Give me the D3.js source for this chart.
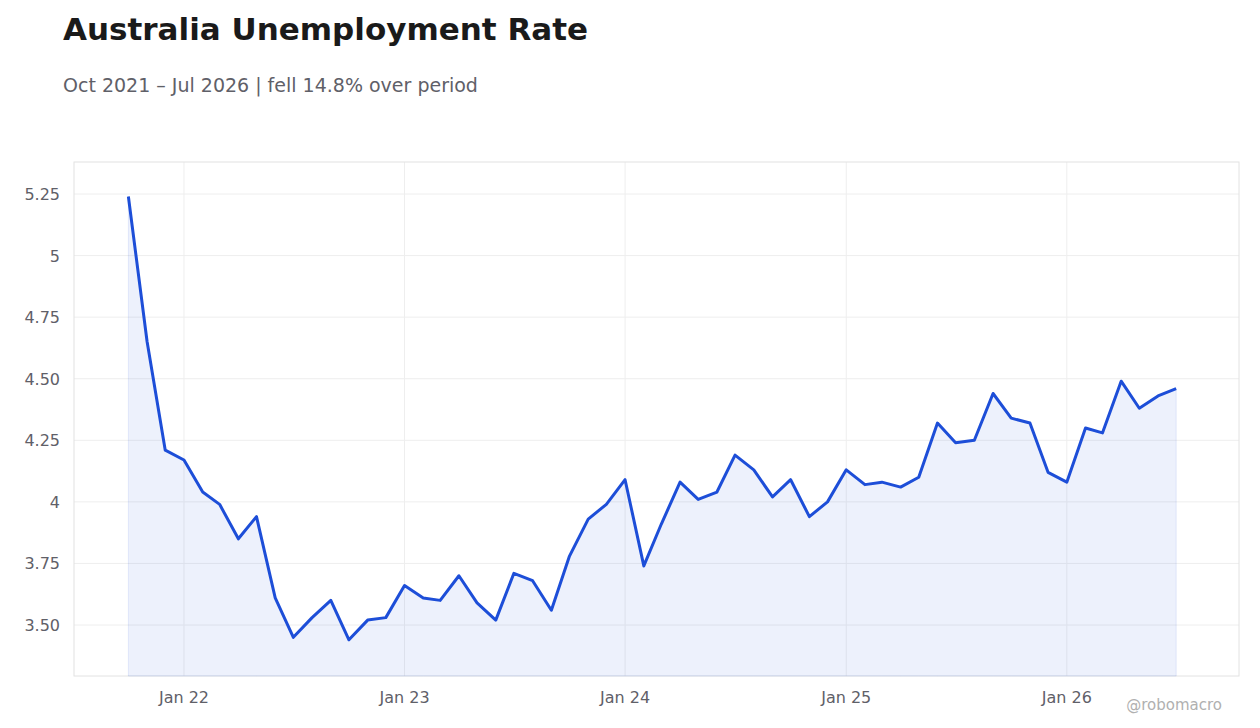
<!DOCTYPE html>
<html>
<head>
<meta charset="utf-8">
<script src="https://cdn.jsdelivr.net/npm/d3@7"></script>
<style>
  body { margin: 0; background: #fff; font-family: "DejaVu Sans", sans-serif; }
</style>
</head>
<body>
<svg id="chart" width="1260" height="728"></svg>
<script>
// Monthly unemployment rate, Oct 2021 to Jul 2026
const startMonth = new Date(2021, 9, 1);
const rates = [
  5.24, 4.65, 4.21, 4.17, 4.04, 3.99, 3.85, 3.94, 3.61, 3.45, 3.53, 3.60,
  3.44, 3.52, 3.53, 3.66, 3.61, 3.60, 3.70, 3.59, 3.52, 3.71, 3.68, 3.56,
  3.78, 3.93, 3.99, 4.09, 3.74, 3.91, 4.08, 4.01, 4.04, 4.19, 4.13, 4.02,
  4.09, 3.94, 4.00, 4.13, 4.07, 4.08, 4.06, 4.10, 4.32, 4.24, 4.25, 4.44,
  4.34, 4.32, 4.12, 4.08, 4.30, 4.28, 4.49, 4.38, 4.43, 4.46
];
const yTicks = [3.5, 3.75, 4, 4.25, 4.5, 4.75, 5, 5.25];
const yTickLabels = ["3.50", "3.75", "4", "4.25", "4.50", "4.75", "5", "5.25"];
const xTicks = [2022, 2023, 2024, 2025, 2026].map(y => new Date(y, 0, 1));
const xTickLabels = ["Jan 22", "Jan 23", "Jan 24", "Jan 25", "Jan 26"];

const data = rates.map((v, i) => ({
  date: new Date(startMonth.getFullYear(), startMonth.getMonth() + i, 1),
  value: v
}));

const svg = d3.select("#chart");
const plotLeft = 74, plotRight = 1239, plotTop = 162, plotBottom = 676;

const x = d3.scaleTime()
  .domain([new Date(2021, 6, 3), new Date(2026, 9, 13)])
  .range([plotLeft, plotRight]);
const y = d3.scaleLinear().domain([3.293, 5.38]).range([plotBottom, plotTop]);

// Title and subtitle
svg.append("text").attr("x", 63).attr("y", 40)
  .style("font-size", "31px").style("font-weight", "bold").attr("fill", "#1a1a1a")
  .text("Australia Unemployment Rate");
svg.append("text").attr("x", 63).attr("y", 92)
  .style("font-size", "19px").attr("fill", "#5f6068")
  .text("Oct 2021 – Jul 2026 | fell 14.8% over period");

// Grid lines
svg.append("g").selectAll("line").data(yTicks).enter().append("line")
  .attr("x1", plotLeft).attr("x2", plotRight)
  .attr("y1", d => y(d)).attr("y2", d => y(d))
  .attr("stroke", "#eeeeee");
svg.append("g").selectAll("line").data(xTicks).enter().append("line")
  .attr("y1", plotTop).attr("y2", plotBottom)
  .attr("x1", d => x(d)).attr("x2", d => x(d))
  .attr("stroke", "#eeeeee");

// Frame
svg.append("rect").attr("x", plotLeft).attr("y", plotTop)
  .attr("width", plotRight - plotLeft).attr("height", plotBottom - plotTop)
  .attr("fill", "none").attr("stroke", "#e2e2e2");

// Area and line
svg.append("path").datum(data)
  .attr("d", d3.area().x(d => x(d.date)).y0(plotBottom).y1(d => y(d.value)))
  .attr("fill", "#1d4ed8").attr("fill-opacity", 0.08)
  .attr("stroke", "#1d4ed8").attr("stroke-opacity", 0.1);
svg.append("path").datum(data)
  .attr("d", d3.line().x(d => x(d.date)).y(d => y(d.value)))
  .attr("fill", "none").attr("stroke", "#1d4ed8").attr("stroke-width", 3)
  .attr("stroke-linejoin", "round");

// Axis labels
svg.append("g").selectAll("text").data(yTicks).enter().append("text")
  .attr("x", 60).attr("y", d => y(d) + 6).attr("text-anchor", "end")
  .style("font-size", "16px").attr("fill", "#5f6068")
  .text((d, i) => yTickLabels[i]);
svg.append("g").selectAll("text").data(xTicks).enter().append("text")
  .attr("x", d => x(d)).attr("y", 703).attr("text-anchor", "middle")
  .style("font-size", "16px").attr("fill", "#5f6068")
  .text((d, i) => xTickLabels[i]);

svg.append("text").attr("x", 1222).attr("y", 710).attr("text-anchor", "end")
  .style("font-size", "15px").attr("fill", "#b0b0b0").text("@robomacro");
</script>
</body>
</html>
